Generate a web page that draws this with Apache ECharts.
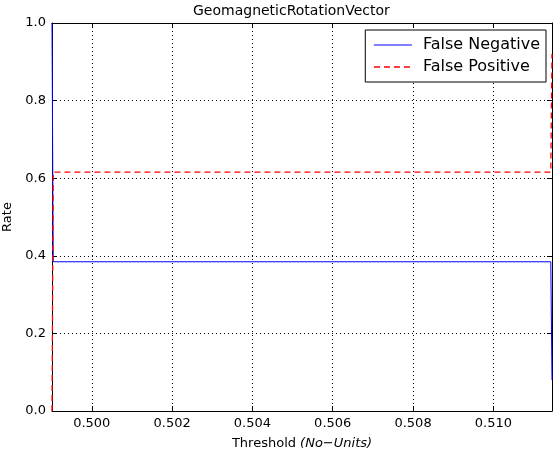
<!DOCTYPE html>
<html>
<head>
<meta charset="utf-8">
<script src="https://cdn.jsdelivr.net/npm/echarts@6/dist/echarts.min.js"></script>
<style>
  html, body { margin: 0; padding: 0; background: #fff; }
  #chart { width: 554px; height: 455px; }
</style>
</head>
<body>
<div id="chart"></div>
<script>
// Threshold sweep for the GeomagneticRotationVector sensor
const thresholds = [0.49901, 0.49904, 0.51143, 0.51146];
const falseNegative = [1.0, 0.3846, 0.3846, 0.08];
const falsePositive = [0.0, 0.6154, 0.6154, 0.92];

const xTicks = [0.500, 0.502, 0.504, 0.506, 0.508, 0.510];
const yTicks = [0.0, 0.2, 0.4, 0.6, 0.8, 1.0];
const xMin = 0.49901, xMax = 0.51146;

const FONT = 'DejaVu Sans';
const BLUE = '#0000ff', RED = '#ff0000';
const RED_DASH = [6, 4];
const TITLE = 'GeomagneticRotationVector';

const chart = echarts.init(document.getElementById('chart'), null, { renderer: 'canvas' });

function pairs(xs, ys) { return xs.map((x, i) => [x, ys[i]]); }

const spine = { show: true, onZero: false, lineStyle: { color: '#000', width: 1 } };
const tickIn = { show: true, inside: true, length: 5, lineStyle: { color: '#000', width: 1 } };
const grid = { show: true, lineStyle: { color: '#000', type: [1, 3], width: 1 } };

chart.setOption({
  animation: false,
  backgroundColor: '#fff',
  title: {
    text: TITLE,
    left: 193, top: 4, padding: 0,
    textStyle: { fontFamily: FONT, fontSize: 14, fontWeight: 'normal', color: '#000' }
  },
  grid: { left: 52, right: 2, top: 23, bottom: 44, containLabel: false, outerBoundsMode: 'none' },
  legend: {
    right: 8, top: 30, orient: 'vertical',
    backgroundColor: '#fff', borderColor: '#000', borderWidth: 1, borderRadius: 0,
    padding: [7, 6, 7, 8], itemGap: 6, itemWidth: 38, itemHeight: 14,
    itemStyle: { opacity: 0 },
    textStyle: { fontFamily: FONT, fontSize: 16, color: '#000', padding: [0, 0, 0, 6] },
    data: [
      { name: 'False Negative', lineStyle: { color: BLUE, width: 1, type: 'solid' } },
      { name: 'False Positive', lineStyle: { color: RED, width: 1.3, type: RED_DASH } }
    ]
  },
  xAxis: [{
    type: 'value', min: xMin, max: xMax, position: 'bottom',
    axisLine: spine,
    axisTick: Object.assign({ customValues: xTicks }, tickIn),
    splitLine: Object.assign({ customValues: xTicks }, grid),
    axisLabel: {
      customValues: xTicks, margin: 6,
      fontFamily: FONT, fontSize: 13, color: '#000',
      formatter: v => v.toFixed(3)
    },
    name: '{n|Threshold }{i|(No\u2212Units)}',
    nameLocation: 'middle', nameGap: 26, nameMoveOverlap: false,
    nameTextStyle: {
      rich: {
        n: { fontFamily: FONT, fontSize: 13, color: '#000' },
        i: { fontFamily: FONT, fontSize: 13, fontStyle: 'italic', color: '#000' }
      }
    }
  }, {
    type: 'value', min: xMin, max: xMax, position: 'top',
    axisLine: spine,
    axisTick: Object.assign({ customValues: xTicks }, tickIn),
    splitLine: { show: false },
    axisLabel: { show: false, customValues: xTicks }
  }],
  yAxis: [{
    type: 'value', min: 0, max: 1, interval: 0.2, position: 'left',
    axisLine: spine, axisTick: tickIn, splitLine: grid,
    axisLabel: {
      margin: 6, fontFamily: FONT, fontSize: 13, color: '#000',
      formatter: v => v.toFixed(1)
    },
    name: 'Rate', nameLocation: 'middle', nameGap: 38, nameMoveOverlap: false,
    nameTextStyle: { fontFamily: FONT, fontSize: 13, color: '#000' }
  }, {
    type: 'value', min: 0, max: 1, interval: 0.2, position: 'right',
    axisLine: spine, axisTick: tickIn, splitLine: { show: false },
    axisLabel: { show: false }
  }],
  series: [{
    name: 'False Negative', type: 'line', xAxisIndex: 0, yAxisIndex: 0,
    data: pairs(thresholds, falseNegative),
    symbol: 'none', clip: true,
    lineStyle: { color: BLUE, width: 1 },
    itemStyle: { color: BLUE }
  }, {
    name: 'False Positive', type: 'line', xAxisIndex: 0, yAxisIndex: 0,
    data: pairs(thresholds, falsePositive),
    symbol: 'none', clip: true,
    lineStyle: { color: RED, width: 1.3, type: RED_DASH },
    itemStyle: { color: RED }
  }]
});
</script>
</body>
</html>
